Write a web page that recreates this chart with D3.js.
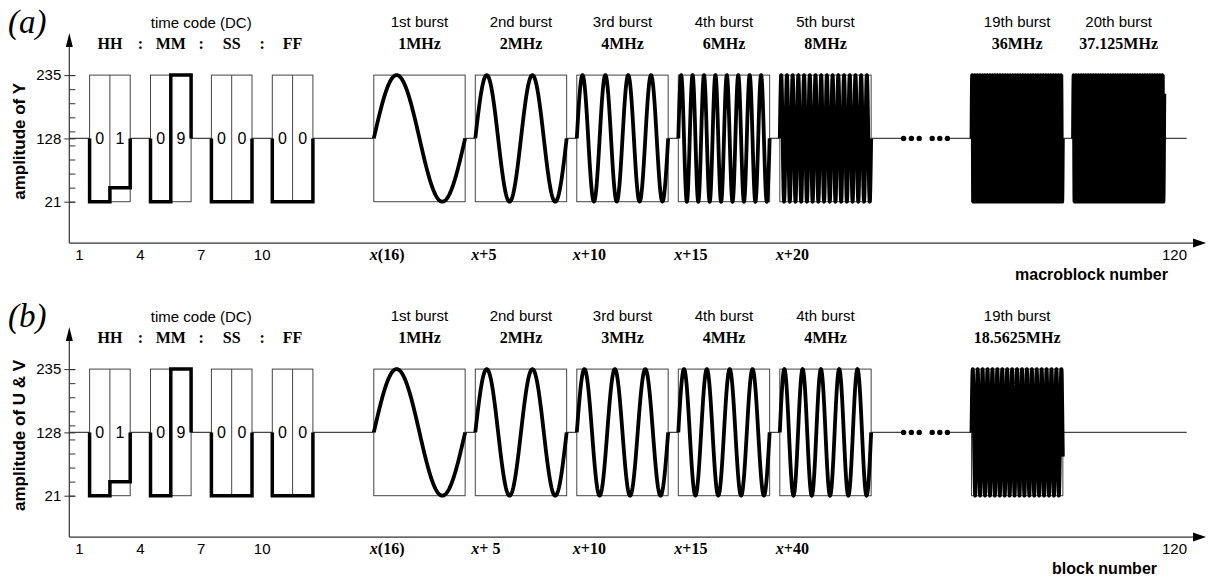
<!DOCTYPE html>
<html>
<head>
<meta charset="utf-8">
<title>Time code and multiburst test signal</title>
<style>
body { margin: 0; background: #fff; }
</style>
</head>
<body>
<script src="https://d3js.org/d3.v7.min.js"></script>
<script>

// ---- data ----
var levels = [21, 128, 235];                       // labelled amplitude ticks
var digitValues = [0, 1, 2, 3, 4, 5, 6, 7, 8, 9];  // time code digit -> amplitude step
var timeGroups = ["HH", "MM", "SS", "FF"];
var timeDigits = [0, 1, 0, 9, 0, 0, 0, 0];         // 01:09:00:00
var xTickText = ["1", "4", "7", "10", "120"];
var xTickAt = [1.5, 4.5, 7.5, 10.5, 120];

// panel (a): luminance
var namesA = ["1st burst", "2nd burst", "3rd burst", "4th burst", "5th burst", "19th burst", "20th burst"];
var freqA = ["1MHz", "2MHz", "4MHz", "6MHz", "8MHz", "36MHz", "37.125MHz"];
var cyclesA = [1, 2, 4, 8, 16, 36, 37.125];
var startA = [16, 21, 26, 31, 36, 110, 115];
var axisA = ["x(16)", "x+5", "x+10", "x+15", "x+20"];

// panel (b): chrominance
var namesB = ["1st burst", "2nd burst", "3rd burst", "4th burst", "4th burst", "19th burst"];
var freqB = ["1MHz", "2MHz", "3MHz", "4MHz", "4MHz", "18.5625MHz"];
var cyclesB = [1, 2, 3, 4, 5, 18.5625];
var startB = [16, 21, 26, 31, 36, 110];
var axisB = ["x(16)", "x+ 5", "x+10", "x+15", "x+40"];

var width = 1211, height = 578;
var sans = "'Liberation Sans', Arial, sans-serif";
var serif = "'Liberation Serif', 'Times New Roman', serif";

// block number -> x (axis is broken between block 42 and block 110)
var x = d3.scaleLinear()
    .domain([1, 42, 110, 121])
    .range([69.3, 901.6, 971.5, 1194.8]);
var y = d3.scaleLinear()
    .domain([21, 235])
    .range([201.7, 75.1]);
var digitLevel = d3.scaleLinear().domain([0, 9]).range([21, 235]);

var svg = d3.select("body").append("svg")
    .attr("width", width)
    .attr("height", height);

function drawPanel(off, tag, yTitle, xTitle, xTitleEnd, names, freqs, cycles, starts, axisLabels) {
  var g = svg.append("g").attr("transform", "translate(0," + off + ")");
  var x0 = x(1), axisY = y(-49), topY = y(306);
  var gapX = x(42);

  // baseline at 128
  g.append("path")
      .attr("d", "M" + x0 + "," + y(128) + "H" + gapX + "M" + (gapX + 48.5) + "," + y(128) + "H" + x(120.6))
      .attr("stroke", "#444").attr("stroke-width", 1.2).attr("fill", "none");

  // break dots
  var dots = [2, 9.8, 17.6, 30.6, 38.2, 45.8];
  g.selectAll(".dot").data(dots).enter().append("circle")
      .attr("cx", function(d) { return gapX + d; })
      .attr("cy", y(128))
      .attr("r", 2.7)
      .attr("fill", "#000");

  // axes
  g.append("line")
      .attr("x1", x0).attr("x2", x0).attr("y1", axisY).attr("y2", topY + 12)
      .attr("stroke", "#333").attr("stroke-width", 1.2);
  g.append("path")
      .attr("d", "M" + x0 + "," + topY + "L" + (x0 - 3.5) + "," + (topY + 14) + "L" + (x0 + 3.5) + "," + (topY + 14) + "Z")
      .attr("fill", "#000");
  g.append("line")
      .attr("x1", x0).attr("x2", 1195).attr("y1", axisY).attr("y2", axisY)
      .attr("stroke", "#333").attr("stroke-width", 1.2);
  g.append("path")
      .attr("d", "M1206," + axisY + "L1193," + (axisY - 4.5) + "L1193," + (axisY + 4.5) + "Z")
      .attr("fill", "#000");

  var yMajor = g.append("g")
      .attr("transform", "translate(" + x0 + ",0)")
      .call(d3.axisLeft(y).tickValues(levels).tickSize(6).tickPadding(2).tickFormat(d3.format("d")));
  yMajor.select(".domain").remove();
  yMajor.selectAll("line").attr("stroke", "#333").attr("x2", -5).attr("x1", 6);
  yMajor.selectAll("text").style("font", "15px " + sans).attr("fill", "#000");

  var yMinor = g.append("g")
      .attr("transform", "translate(" + x0 + ",0)")
      .call(d3.axisRight(y).tickValues(digitValues.map(digitLevel)).tickSize(6).tickFormat(""));
  yMinor.select(".domain").remove();
  yMinor.selectAll("line").attr("stroke", "#333");

  // time code boxes
  timeGroups.forEach(function(name, k) {
    var b = 2 + 3 * k;
    var d0 = timeDigits[2 * k], d1 = timeDigits[2 * k + 1];
    g.append("rect")
        .attr("x", x(b)).attr("y", y(235))
        .attr("width", x(b + 2) - x(b)).attr("height", y(21) - y(235))
        .attr("fill", "#fff").attr("stroke", "#444").attr("stroke-width", 1);
    g.append("line")
        .attr("x1", x(b + 1)).attr("x2", x(b + 1)).attr("y1", y(235)).attr("y2", y(21))
        .attr("stroke", "#444").attr("stroke-width", 1);
    g.append("path")
        .attr("d", "M" + x(b) + "," + y(128) +
                   "V" + y(digitLevel(d0)) + "H" + x(b + 1) +
                   "V" + y(digitLevel(d1)) + "H" + x(b + 2) + "V" + y(128))
        .attr("fill", "none").attr("stroke", "#000").attr("stroke-width", 3.5)
        .attr("stroke-linejoin", "miter");
    [d0, d1].forEach(function(d, j) {
      g.append("text")
          .attr("x", x(b + j + 0.5)).attr("y", y(128) + 5.6)
          .attr("text-anchor", "middle")
          .style("font", "16px " + sans)
          .text(d);
    });
    g.append("text")
        .attr("x", x(b + 1)).attr("y", 48.6)
        .attr("text-anchor", "middle")
        .style("font", "bold 16px " + serif)
        .text(name);
    if (k > 0) {
      g.append("text")
          .attr("x", x(b - 0.5)).attr("y", 48.6)
          .attr("text-anchor", "middle")
          .style("font", "bold 16px " + serif)
          .text(":");
    }
  });
  g.append("text")
      .attr("x", x(7.5)).attr("y", 28)
      .attr("text-anchor", "middle")
      .style("font", "15px " + sans)
      .text("time code (DC)");

  // bursts
  var line = d3.line().curve(d3.curveLinear);
  starts.forEach(function(s, i) {
    var bx = x(s), ex = x(s + 4.5);
    g.append("rect")
        .attr("x", bx).attr("y", y(235))
        .attr("width", ex - bx).attr("height", y(21) - y(235))
        .attr("fill", "#fff").attr("stroke", "#444").attr("stroke-width", 1);
    var n = Math.max(200, Math.ceil(cycles[i] * 48));
    var pts = d3.range(n + 1).map(function(k) {
      var t = k / n;
      return [bx + t * (ex - bx), y(128 + 107 * Math.sin(2 * Math.PI * cycles[i] * t))];
    });
    g.append("path")
        .attr("d", line(pts))
        .attr("fill", "none").attr("stroke", "#000").attr("stroke-width", 3.8)
        .attr("stroke-linejoin", "round");
    var cx = x(s + 2.25);
    g.append("text")
        .attr("x", cx).attr("y", 27)
        .attr("text-anchor", "middle")
        .style("font", "15px " + sans)
        .text(names[i]);
    g.append("text")
        .attr("x", cx).attr("y", 48.6)
        .attr("text-anchor", "middle")
        .style("font", "bold 16px " + serif)
        .text(freqs[i]);
    if (i < axisLabels.length) {
      var t = g.append("text")
          .attr("x", bx - 4).attr("y", 260)
          .style("font", "bold 16px " + serif)
          .attr("xml:space", "preserve");
      t.append("tspan").style("font-style", "italic").text(axisLabels[i].slice(0, 1));
      t.append("tspan").text(axisLabels[i].slice(1));
    }
  });

  // x tick labels
  g.selectAll(".xt").data(xTickText).enter().append("text")
      .attr("x", function(d, i) { return x(xTickAt[i]); })
      .attr("y", 260)
      .attr("text-anchor", "middle")
      .style("font", "15px " + sans)
      .text(function(d) { return d; });

  // titles
  g.append("text")
      .attr("transform", "translate(25," + (y(128) + 3) + ") rotate(-90)")
      .attr("text-anchor", "middle")
      .style("font", "bold 17px " + sans)
      .text(yTitle);
  g.append("text")
      .attr("x", xTitleEnd).attr("y", 280)
      .attr("text-anchor", "end")
      .style("font", "bold 16px " + sans)
      .text(xTitle);
  g.append("text")
      .attr("x", 8).attr("y", 33)
      .style("font", "italic 33px " + serif)
      .text(tag);
}

drawPanel(0, "(a)", "amplitude of Y", "macroblock number", 1168, namesA, freqA, cyclesA, startA, axisA);
drawPanel(294, "(b)", "amplitude of U & V", "block number", 1157, namesB, freqB, cyclesB, startB, axisB);

</script>
</body>
</html>
